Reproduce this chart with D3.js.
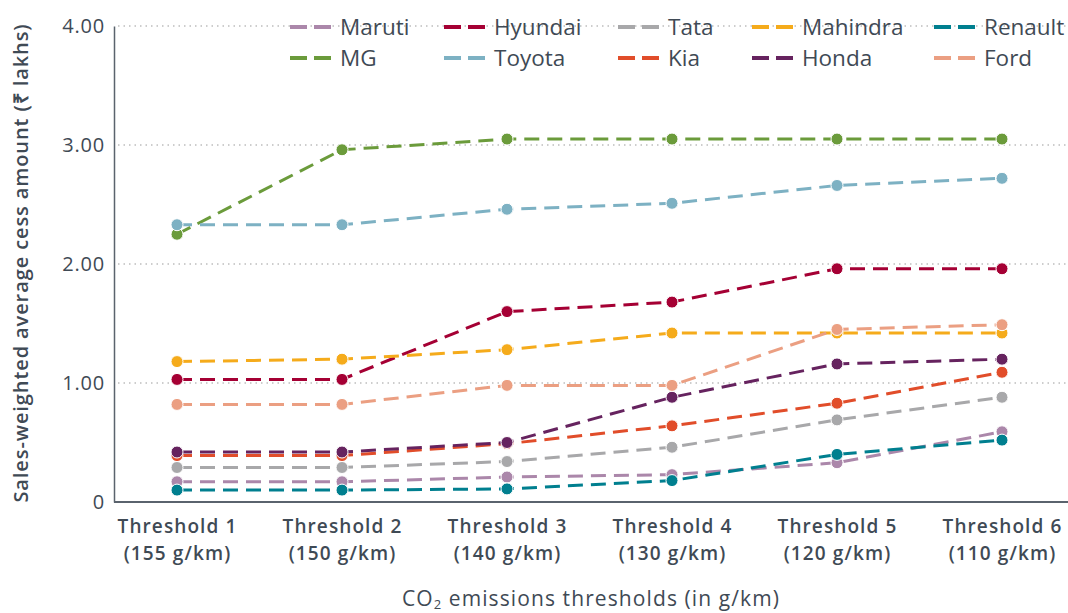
<!DOCTYPE html>
<html><head><meta charset="utf-8">
<script src="https://cdn.jsdelivr.net/npm/d3@7"></script>
<style>
body{margin:0;background:#fff;}
svg{display:block;font-family:"Open Sans",sans-serif;}
</style></head>
<body><svg id="c" width="1068" height="613"></svg>
<script>
const thresholds = ["Threshold 1","Threshold 2","Threshold 3","Threshold 4","Threshold 5","Threshold 6"];
const thresholdSub = ["(155 g/km)","(150 g/km)","(140 g/km)","(130 g/km)","(120 g/km)","(110 g/km)"];
const yTicks = [0,1,2,3,4];
const seriesNames = ["Maruti","Hyundai","Tata","Mahindra","Renault","MG","Toyota","Kia","Honda","Ford"];
const seriesColors = ["#ab87aa","#a50034","#a8a8aa","#f5ab1b","#007f8f","#6b9b3b","#7db1c3","#e14d2a","#66235f","#eb9f82"];
const maruti   = [0.17,0.17,0.21,0.23,0.33,0.59];
const hyundai  = [1.03,1.03,1.60,1.68,1.96,1.96];
const tata     = [0.29,0.29,0.34,0.46,0.69,0.88];
const mahindra = [1.18,1.20,1.28,1.42,1.42,1.42];
const renault  = [0.10,0.10,0.11,0.18,0.40,0.52];
const mg       = [2.25,2.96,3.05,3.05,3.05,3.05];
const toyota   = [2.33,2.33,2.46,2.51,2.66,2.72];
const kia      = [0.39,0.39,0.49,0.64,0.83,1.09];
const honda    = [0.42,0.42,0.50,0.88,1.16,1.20];
const ford     = [0.82,0.82,0.98,0.98,1.45,1.49];
const seriesValues = [maruti,hyundai,tata,mahindra,renault,mg,toyota,kia,honda,ford];

const svg = d3.select("#c");
const textColor = "#3f4a55";
const L = 114, R = 1068, T = 26, B = 502;
const x = d3.scalePoint().domain(thresholds).range([177,1002]);
const y = d3.scaleLinear().domain([0,4]).range([B,T]);

// gridlines
svg.append("g").selectAll("line").data(yTicks.filter(d=>d>0)).join("line")
  .attr("x1",L+4).attr("x2",R-2).attr("y1",d=>y(d)).attr("y2",d=>y(d))
  .attr("stroke","#bdbdbd").attr("stroke-width",1.3).attr("stroke-dasharray","1.5,4");

// y axis
const ya = svg.append("g").attr("transform",`translate(${L},0)`)
  .call(d3.axisLeft(y).tickValues(yTicks).tickSize(0).tickPadding(9).tickFormat(d=>d===0?"0":d3.format(".2f")(d)));
ya.select(".domain").attr("stroke","#5a636d").attr("stroke-width",1.5);
ya.selectAll("text").attr("fill",textColor).attr("font-size",20).attr("letter-spacing",0.8)
  .attr("font-family","Open Sans, sans-serif");

// x axis
const xa = svg.append("g").attr("transform",`translate(0,${B})`)
  .call(d3.axisBottom(x).tickSize(0).tickPadding(0));
xa.select(".domain").remove();
xa.append("line").attr("x1",L).attr("x2",R).attr("y1",0).attr("y2",0).attr("stroke","#5a636d").attr("stroke-width",2);
xa.selectAll(".tick text").each(function(d,i){
  const t = d3.select(this).text(null).attr("dy",null).attr("y",null).attr("fill",textColor).attr("font-size",19)
    .attr("font-family","Open Sans, sans-serif").attr("font-weight",600).attr("letter-spacing",1.1);
  t.append("tspan").attr("x",0).attr("y",31).text(d);
  t.append("tspan").attr("x",0).attr("y",58).text(thresholdSub[i]);
});

// axis titles
svg.append("text").attr("transform","translate(28,263) rotate(-90)").attr("text-anchor","middle")
  .attr("fill",textColor).attr("font-size",20).attr("font-weight",600).attr("letter-spacing",0.9)
  .text("Sales-weighted average cess amount (₹ lakhs)");
const xt = svg.append("text").attr("x",591).attr("y",606).attr("text-anchor","middle")
  .attr("fill",textColor).attr("font-size",21).attr("letter-spacing",1.1);
xt.append("tspan").text("CO");
xt.append("tspan").attr("font-size",13).attr("dy",3).text("2");
xt.append("tspan").attr("dy",-3).text(" emissions thresholds (in g/km)");

// lines
const line = d3.line().x((d,i)=>x(thresholds[i])).y(d=>y(d));
seriesValues.forEach((vals,si)=>{
  const g = svg.append("g");
  g.append("path").datum(vals).attr("d",line).attr("fill","none")
    .attr("stroke",seriesColors[si]).attr("stroke-width",3).attr("stroke-dasharray","15,8");
  g.selectAll("circle").data(vals).join("circle")
    .attr("cx",(d,i)=>x(thresholds[i])).attr("cy",d=>y(d)).attr("r",6)
    .attr("fill",seriesColors[si]).attr("stroke","#fff").attr("stroke-width",1);
});

// legend
const legX = [290,444,618,752,934];
const legY = [27,58];
seriesNames.forEach((n,i)=>{
  const lx = legX[i%5], ly = legY[Math.floor(i/5)];
  const g = svg.append("g").attr("transform",`translate(${lx},${ly})`);
  g.append("line").attr("x1",0).attr("x2",43).attr("y1",0).attr("y2",0)
    .attr("stroke",seriesColors[i]).attr("stroke-width",4).attr("stroke-dasharray","17,7");
  g.append("text").attr("x",50).attr("y",8).attr("fill",textColor).attr("font-size",22.5).text(n);
});
</script></body></html>
